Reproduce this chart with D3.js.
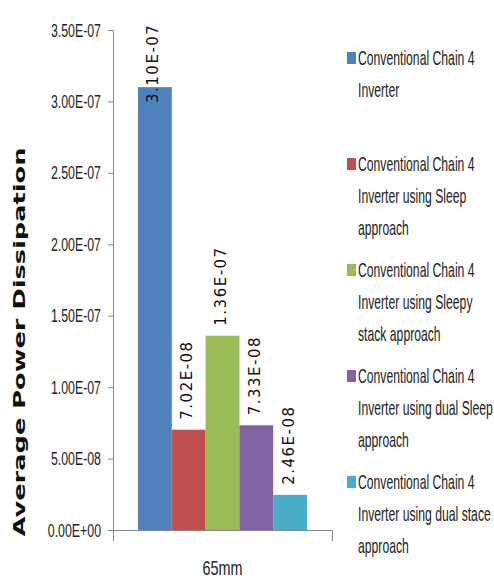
<!DOCTYPE html>
<html>
<head>
<meta charset="utf-8">
<script src="https://cdn.jsdelivr.net/npm/d3@7"></script>
<style>
  html, body { margin: 0; padding: 0; background: #fff; }
  svg { display: block; }
</style>
</head>
<body>
<svg id="chart" width="494" height="581"></svg>
<script>
// ---- data ----
const categories = ["65mm"];
const seriesNames = [
  "Conventional Chain 4 Inverter",
  "Conventional Chain 4 Inverter using Sleep approach",
  "Conventional Chain 4 Inverter using Sleepy stack approach",
  "Conventional Chain 4 Inverter using dual Sleep approach",
  "Conventional Chain 4 Inverter using dual stace approach"
];
const legendLines = [
  ["Conventional Chain 4", "Inverter"],
  ["Conventional Chain 4", "Inverter using Sleep", "approach"],
  ["Conventional Chain 4", "Inverter using Sleepy", "stack approach"],
  ["Conventional Chain 4", "Inverter using dual Sleep", "approach"],
  ["Conventional Chain 4", "Inverter using dual stace", "approach"]
];
const values = [3.10e-7, 7.02e-8, 1.36e-7, 7.33e-8, 2.46e-8];
const colors = ["#4F81BD", "#C0504D", "#9BBB59", "#8064A2", "#4BACC6"];
const yTicks = [0, 5e-8, 1e-7, 1.5e-7, 2e-7, 2.5e-7, 3e-7, 3.5e-7];
const yTitle = "Average Power Dissipation";

// ---- helpers ----
function sci(v) {
  if (v === 0) return "0.00E+00";
  const s = v.toExponential(2).toUpperCase();
  const m = s.match(/^(.*)E([+-])(\d+)$/);
  return m[1] + "E" + m[2] + m[3].padStart(2, "0");
}
// horizontally condense text (narrow, tall glyphs like the reference)
function condense(sel, k) {
  sel.each(function() {
    const t = d3.select(this);
    const x = +t.attr("x") || 0;
    const yy = +t.attr("y") || 0;
    t.attr("x", 0).attr("y", 0)
     .attr("transform", `translate(${x},${yy}) scale(${k},1)`);
  });
}

const svg = d3.select("#chart");
const plot = { left: 113, right: 332, top: 30, bottom: 530 };

const y = d3.scaleLinear().domain([0, 3.5e-7]).range([plot.bottom, plot.top]);
const x0 = d3.scaleBand().domain(categories).range([plot.left, plot.right]);
const x1 = d3.scaleBand().domain(seriesNames).range([25, x0.bandwidth() - 25]);

const axisColor = "#868686";
const tickFont = "'Liberation Sans', Arial, sans-serif";

// y axis
const gy = svg.append("g")
  .attr("transform", `translate(${plot.left},0)`)
  .call(d3.axisLeft(y).tickValues(yTicks).tickFormat(sci).tickSize(5).tickSizeOuter(0).tickPadding(7));
gy.select(".domain").attr("stroke", axisColor);
gy.selectAll(".tick line").attr("stroke", axisColor);
gy.selectAll(".tick text")
  .attr("font-family", tickFont).attr("font-size", 19).attr("fill", "#222")
  .call(condense, 0.65);

// x axis
const gx = svg.append("g")
  .attr("transform", `translate(0,${plot.bottom})`)
  .call(d3.axisBottom(x0).tickSizeInner(0).tickSizeOuter(11).tickPadding(31));
gx.select(".domain").attr("stroke", axisColor);
gx.selectAll(".tick text")
  .attr("font-family", tickFont).attr("font-size", 20).attr("fill", "#222")
  .call(condense, 0.72);

// bars
const g = svg.append("g");
categories.forEach(cat => {
  const bx = x0(cat);
  seriesNames.forEach((s, i) => {
    g.append("rect")
      .attr("x", bx + x1(s))
      .attr("y", y(values[i]))
      .attr("width", x1.bandwidth())
      .attr("height", y(0) - y(values[i]))
      .attr("fill", colors[i]);
  });
  const labelLen = 93;
  seriesNames.forEach((s, i) => {
    const cx = bx + x1(s) + x1.bandwidth() / 2 - 2;
    let base = y(values[i]) - 10;
    base = Math.max(base, plot.top - 20 + labelLen);
    g.append("text")
      .attr("transform", `translate(${cx},${base}) rotate(-90)`)
      .attr("dy", "0.36em")
      .attr("font-family", "'DejaVu Sans', Verdana, sans-serif")
      .attr("font-size", 15)
      .attr("letter-spacing", 1.5)
      .attr("fill", "#111")
      .text(sci(values[i]));
  });
});

// y title
svg.append("text")
  .attr("transform", `translate(19,342) rotate(-90)`)
  .attr("text-anchor", "middle")
  .attr("dy", "0.36em")
  .attr("font-family", "'DejaVu Sans', Verdana, sans-serif")
  .attr("font-weight", "bold")
  .attr("font-size", 16)
  .attr("textLength", 389)
  .attr("lengthAdjust", "spacingAndGlyphs")
  .attr("fill", "#111")
  .text(yTitle);

// legend
const lg = svg.append("g");
legendLines.forEach((lines, i) => {
  const top = 58 + i * 106;
  lg.append("rect")
    .attr("x", 347).attr("y", top - 6).attr("width", 9).attr("height", 12)
    .attr("fill", colors[i]);
  lines.forEach((ln, j) => {
    lg.append("text")
      .attr("x", 358).attr("y", top + j * 32)
      .attr("dy", "0.36em")
      .attr("font-family", tickFont).attr("font-size", 20).attr("fill", "#222")
      .text(ln)
      .call(condense, 0.61);
  });
});
</script>
</body>
</html>
